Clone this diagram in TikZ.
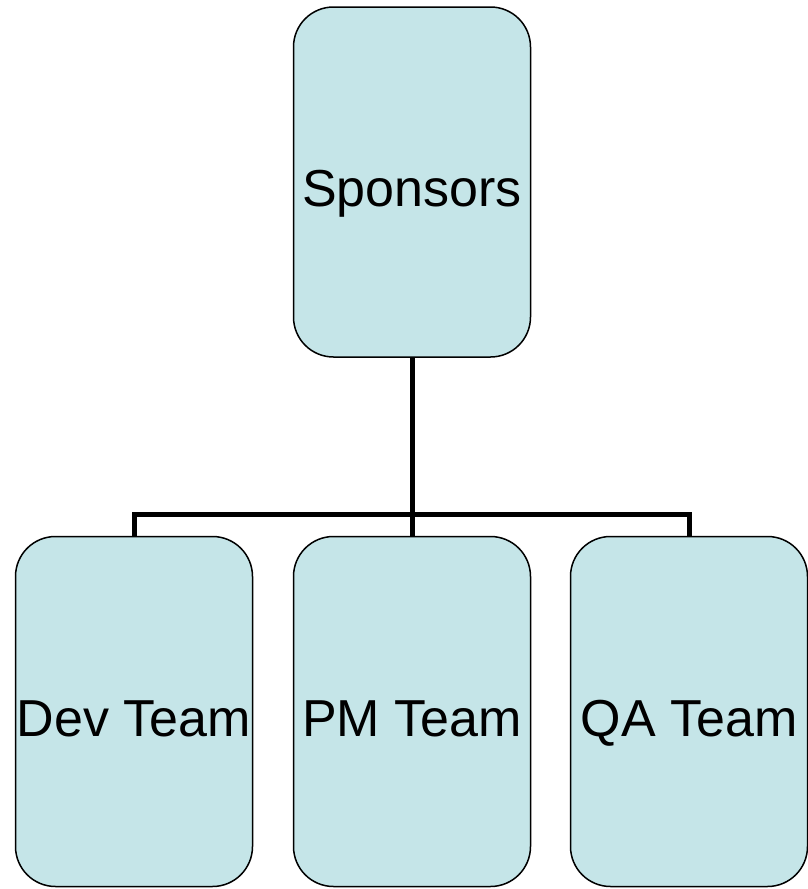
\documentclass[tikz,border=0pt]{standalone}
\usepackage{fontspec}
\setmainfont{Liberation Sans}
\definecolor{boxfill}{RGB}{197,229,232}
\begin{document}
\begin{tikzpicture}[x=1pt, y=1pt,
    every node/.style={font=\fontsize{52}{60}\selectfont},
    team/.style={shape=rectangle, draw=black, fill=boxfill, line width=1.5pt, rounded corners=40pt, minimum width=237pt, minimum height=350pt, inner sep=0pt, text height=49pt, text depth=0pt},
    link/.style={line width=5pt}]
        \useasboundingbox (0,0) rectangle (807,-889);
        \node[team] (sponsors) at (412,-182) {Sponsors};
        \node[team] (dev) at (134,-711.5) {Dev Team};
        \node[team] (pm) at (412,-711.5) {PM Team};
        \node[team] (qa) at (689,-711.5) {QA Team};
        \coordinate (hub) at (412,-514);

        \draw[link] (sponsors) -- (pm);
        \draw[link] (hub) -| (dev);
        \draw[link] (hub) -| (qa);
    \end{tikzpicture}
\end{document}
